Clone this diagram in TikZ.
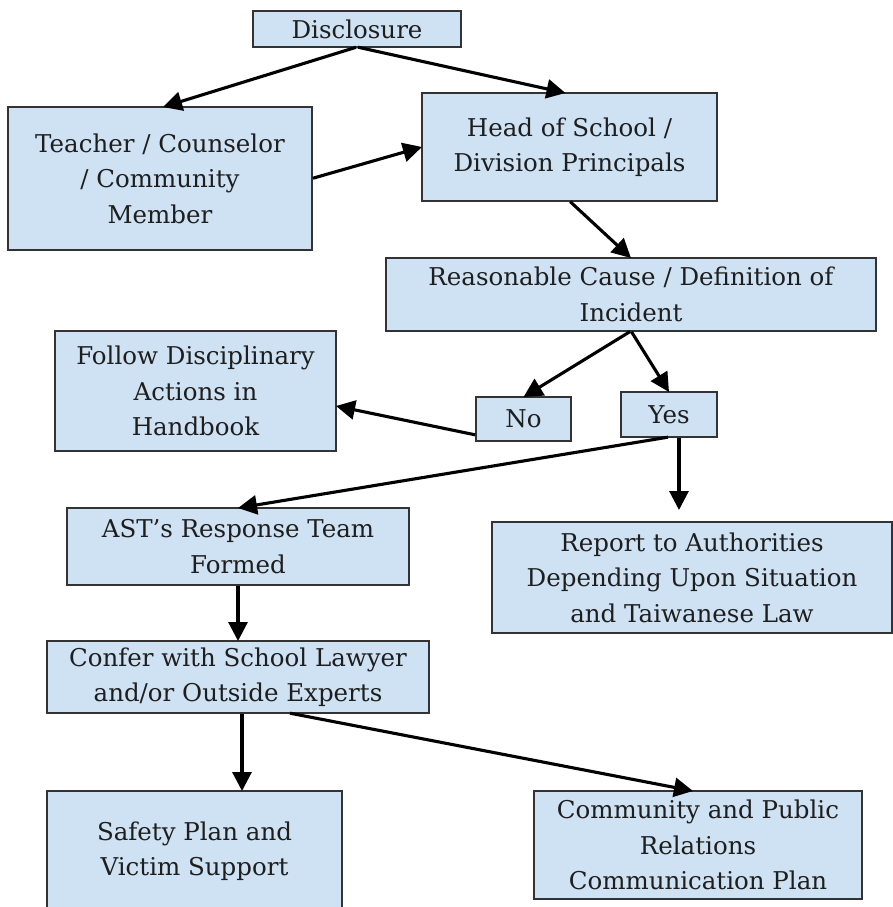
\documentclass[tikz,border=0pt]{standalone}
\usepackage{fontspec}
\setmainfont{DejaVu Serif}
\usetikzlibrary{arrows.meta}
\definecolor{boxfill}{HTML}{CFE2F3}
\definecolor{boxline}{HTML}{333333}
\definecolor{txt}{HTML}{1E1E1E}
\tikzset{
  box/.style={draw=boxline, fill=boxfill, line width=1.6pt, inner sep=0pt, outer sep=0pt,
    align=center, text=txt, font=\fontsize{24.5}{35.5}\selectfont},
  conn/.style={line width=3.1pt, draw=black, -{Triangle[length=19pt,width=19pt]}, shorten <=1pt}
}
\begin{document}
\begin{tikzpicture}[x=1pt,y=-1pt]
\useasboundingbox (0,0) rectangle (893,907);
\clip (0,0) rectangle (893,907);
\node[box, minimum width=208pt, minimum height=36pt] (disc) at (357,29) {Disclosure};
\node[box, minimum width=304pt, minimum height=143pt] (teach) at (160,178.5) {Teacher / Counselor\\/ Community\\Member};
\node[box, minimum width=295pt, minimum height=108pt] (head) at (569.5,147) {Head of School /\\Division Principals};
\node[box, minimum width=490pt, minimum height=73pt] (reas) at (631,294.5) {Reasonable Cause / Definition of\\Incident};
\node[box, minimum width=281pt, minimum height=120pt] (fol) at (195.5,391) {Follow Disciplinary\\Actions in\\Handbook};
\node[box, minimum width=95pt, minimum height=44pt] (no) at (523.5,419) {No};
\node[box, minimum width=96pt, minimum height=45pt] (yes) at (669,414.5) {Yes};
\node[box, minimum width=342pt, minimum height=77pt] (ast) at (238,546.5) {AST’s Response Team\\Formed};
\node[box, minimum width=400pt, minimum height=111pt] (rep) at (692,577.5) {Report to Authorities\\Depending Upon Situation\\and Taiwanese Law};
\node[box, minimum width=382pt, minimum height=72pt] (conf) at (238,677) {Confer with School Lawyer\\and/or Outside Experts};
\node[box, minimum width=295pt, minimum height=120pt] (safe) at (194.5,851) {Safety Plan and\\Victim Support};
\node[box, minimum width=328pt, minimum height=108pt] (comm) at (698,845) {Community and Public\\Relations\\Communication Plan};
\coordinate (repin) at (679,510);

\draw[conn] (disc.south) -- ([xshift=3pt]teach.north);
\draw[conn] (disc.south) -- ([xshift=-4pt]head.north);
\draw[conn] (teach.east) -- (head.west);
\draw[conn] (head.south) -- (reas.north);
\draw[conn] (reas.south) -- (no.north);
\draw[conn] (reas.south) -- (yes.north);
\draw[conn] ([yshift=6pt]no.south west) -- ([yshift=-15pt]fol.east);
\draw[conn] (yes.south) -- (ast.north);
\draw[conn] ([xshift=10pt]yes.south) -- (repin);
\draw[conn] (ast.south) -- (conf.north);
\draw[conn] ([xshift=4pt]conf.south) -- ([xshift=4pt]conf.south |- safe.north);
\draw[conn] ([xshift=51pt]conf.south) -- ([xshift=-5pt]comm.north);
\end{tikzpicture}
\end{document}
